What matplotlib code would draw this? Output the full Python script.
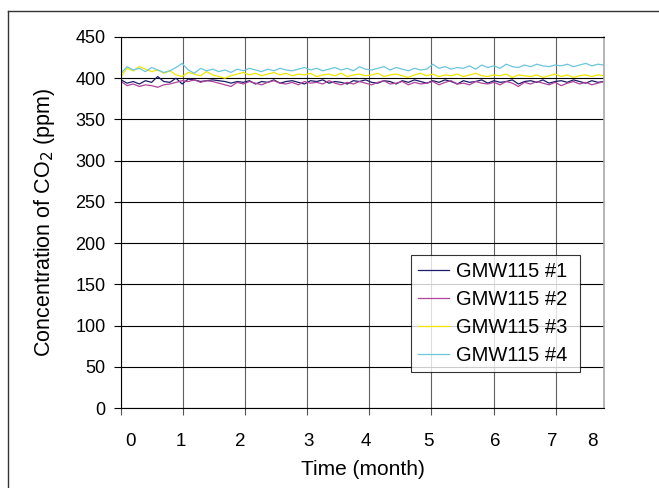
import numpy as np
import matplotlib.pyplot as plt
from matplotlib.lines import Line2D

plt.rcParams['font.family'] = ['Liberation Sans', 'DejaVu Sans']

# CO2 concentration readings (ppm), four GMW115 sensors
s1 = [398, 394, 396, 393, 397, 395, 402, 396, 395, 400, 393, 399, 398, 396, 397, 398, 397, 396, 394, 396,
      395, 397, 393, 396, 395, 398, 394, 396, 397, 395, 393, 397, 396, 398, 394, 396, 395, 393, 397, 396,
      398, 395, 394, 397, 396, 393, 397, 395, 398, 396, 394, 397, 395, 398, 396, 393, 397, 395, 396, 398,
      394, 397, 395, 396, 398, 393, 396, 397, 395, 398, 394, 396, 397, 395, 398, 396, 394, 397, 395, 396]
s2 = [396, 391, 393, 390, 392, 391, 389, 392, 393, 395, 397, 396, 398, 395, 397, 396, 394, 392, 390, 395,
      393, 396, 394, 392, 395, 397, 394, 393, 395, 392, 396, 394, 395, 393, 397, 394, 392, 395, 393, 396,
      394, 392, 395, 397, 393, 394, 396, 392, 395, 393, 394, 396, 392, 395, 397, 393, 394, 392, 396, 394,
      393, 395, 392, 396, 394, 390, 395, 393, 396, 394, 392, 395, 391, 394, 396, 393, 395, 392, 394, 396]
s3 = [402, 412, 409, 414, 411, 408, 410, 406, 409, 404, 402, 407, 405, 403, 408, 404, 402, 400, 403, 405,
      407, 404, 406, 403, 405, 407, 404, 406, 403, 405, 404, 406, 402, 404, 405, 403, 406, 402, 404, 405,
      403, 404, 406, 402, 404, 405, 403, 401, 404, 406, 403, 405, 402, 404, 403, 405, 402, 404, 406, 403,
      402, 404, 403, 405, 401, 404, 403, 402, 404, 401, 403, 405, 402, 404, 401, 403, 404, 402, 404, 403]
s4 = [406, 414, 410, 412, 408, 413, 410, 407, 409, 413, 418, 410, 406, 412, 409, 411, 408, 410, 407, 411,
      409, 412, 410, 408, 411, 409, 412, 410, 409, 411, 413, 410, 412, 409, 411, 413, 410, 412, 409, 414,
      411, 410, 412, 414, 410, 413, 411, 409, 412, 410, 411, 417, 412, 414, 411, 413, 412, 415, 411, 416,
      413, 415, 412, 417, 414, 413, 416, 414, 417, 415, 414, 416, 415, 417, 414, 416, 418, 415, 417, 416]
series = [s1, s2, s3, s4]
names = ['GMW115 #1', 'GMW115 #2', 'GMW115 #3', 'GMW115 #4']
colors = ['#1c1c6c', '#b0449a', '#f2e600', '#6cc6dc']

t_end = 7.78
t = np.linspace(0, t_end, len(s1))

# month labels sit slightly off the grid lines in the original
month_labels = ['0', '1', '2', '3', '4', '5', '6', '7', '8']
label_pos = [0.15, 0.97, 1.92, 3.02, 3.95, 4.95, 6.03, 6.95, 7.6]

fig = plt.figure(figsize=(6.59, 4.88), dpi=100)
ax = fig.add_axes([0.1836, 0.1639, 0.7330, 0.7603])

for s, name, c in zip(series, names, colors):
    ax.plot(t, s, color=c, lw=0.9, label=name)

ax.set_xlim(0, t_end)
ax.set_ylim(0, 450)
ax.set_yticks(range(0, 451, 50))
ax.set_xticks(range(0, 8), labels=[''] * 8)
ax.set_xticks(label_pos, labels=month_labels, minor=True)
ax.tick_params(axis='x', which='major', direction='out', length=5, width=0.8, color='#555555')
ax.tick_params(axis='x', which='minor', length=0, pad=18, labelsize=13.5)
ax.tick_params(axis='y', direction='out', length=5, width=0.8, pad=6, labelsize=13)

ax.grid(axis='y', which='major', color='black', lw=0.8)
ax.grid(axis='x', which='major', color='#606060', lw=0.8)
ax.set_axisbelow(True)
for side in ['left', 'bottom', 'top']:
    ax.spines[side].set_color('black')
    ax.spines[side].set_linewidth(0.8)
ax.spines['right'].set_color('#a8a8a8')
ax.spines['right'].set_linewidth(1.2)

ax.set_xlabel('Time (month)', fontsize=15, labelpad=7)
ax.set_ylabel('Concentration of CO$_2$ (ppm)', fontsize=15.5, labelpad=13)

leg = ax.legend(loc='lower left', bbox_to_anchor=(0.6, 0.097, 0.35, 0.31), mode='expand',
                fontsize=14.5, frameon=True, fancybox=False, handlelength=1.55,
                borderpad=0.35, labelspacing=0.45, handletextpad=0.35, borderaxespad=0)
leg.get_frame().set_edgecolor('black')
leg.get_frame().set_linewidth(0.8)

# outer frame of the original figure (left and top edges only)
fig.add_artist(Line2D([8 / 659, 8 / 659], [0, 1 - 11 / 488], color='#333333', lw=1))
fig.add_artist(Line2D([8 / 659, 1], [1 - 11 / 488, 1 - 11 / 488], color='#333333', lw=1))

fig.savefig('out.png', dpi=100)
